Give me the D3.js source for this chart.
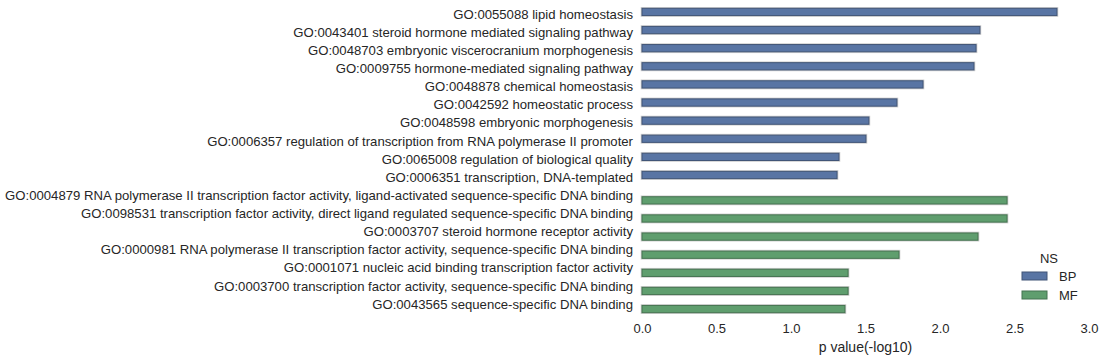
<html>
<head>
<script src="https://cdn.jsdelivr.net/npm/d3@7"></script>
<style>
  body { margin: 0; background: #fff; }
  text { font-family: "Liberation Sans", Arial, sans-serif; fill: #262626; }
</style>
</head>
<body>
<svg width="1104" height="362"></svg>
<script>

// GO terms, top to bottom
const terms = [
  "GO:0055088 lipid homeostasis",
  "GO:0043401 steroid hormone mediated signaling pathway",
  "GO:0048703 embryonic viscerocranium morphogenesis",
  "GO:0009755 hormone-mediated signaling pathway",
  "GO:0048878 chemical homeostasis",
  "GO:0042592 homeostatic process",
  "GO:0048598 embryonic morphogenesis",
  "GO:0006357 regulation of transcription from RNA polymerase II promoter",
  "GO:0065008 regulation of biological quality",
  "GO:0006351 transcription, DNA-templated",
  "GO:0004879 RNA polymerase II transcription factor activity, ligand-activated sequence-specific DNA binding",
  "GO:0098531 transcription factor activity, direct ligand regulated sequence-specific DNA binding",
  "GO:0003707 steroid hormone receptor activity",
  "GO:0000981 RNA polymerase II transcription factor activity, sequence-specific DNA binding",
  "GO:0001071 nucleic acid binding transcription factor activity",
  "GO:0003700 transcription factor activity, sequence-specific DNA binding",
  "GO:0043565 sequence-specific DNA binding"
];
const ns = ["BP","BP","BP","BP","BP","BP","BP","BP","BP","BP",
            "MF","MF","MF","MF","MF","MF","MF"];
const pvals = [2.785, 2.268, 2.242, 2.228, 1.886, 1.711, 1.523, 1.503, 1.322, 1.309,
               2.450, 2.450, 2.255, 1.725, 1.383, 1.383, 1.362];
const groups = ["BP", "MF"];
const colors = ["#5975a4", "#5f9e6e"];
const xTicks = [0, 0.5, 1, 1.5, 2, 2.5, 3];

const svg = d3.select("svg");

const x = d3.scaleLinear().domain([0, 3]).range([642, 1089]);
const y = d3.scaleBand().domain(terms).range([6.5, 314.5]).padding(0);
// hue dodge inside each category, like seaborn (0.8 of the band)
const yh = d3.scaleBand().domain(groups)
  .range([y.bandwidth() * 0.1, y.bandwidth() * 0.9]).padding(0);
const color = d3.scaleOrdinal().domain(groups).range(colors);

const data = terms.map((t, i) => ({term: t, ns: ns[i], v: pvals[i]}));

// bars
const bars = svg.append("g").selectAll("g")
  .data(data)
  .join("g");
bars.append("rect")
  .attr("x", x(0))
  .attr("y", d => y(d.term) + yh(d.ns))
  .attr("width", d => x(d.v) - x(0))
  .attr("height", yh.bandwidth())
  .attr("fill", "none")
  .attr("stroke", "#d0d0d0")
  .attr("stroke-width", 2.6);
bars.append("rect")
  .attr("x", x(0))
  .attr("y", d => y(d.term) + yh(d.ns))
  .attr("width", d => x(d.v) - x(0))
  .attr("height", yh.bandwidth())
  .attr("fill", d => color(d.ns))
  .attr("stroke", d => d3.color(color(d.ns)).darker(0.9))
  .attr("stroke-width", 1);

// y labels
const yAxis = svg.append("g")
  .attr("transform", `translate(${x(0)},-1)`)
  .call(d3.axisLeft(y).tickSize(0).tickPadding(9));
yAxis.select(".domain").remove();
yAxis.selectAll("text")
  .attr("font-size", 13.15)
  .attr("font-family", "Liberation Sans, Arial, sans-serif")
  .attr("fill", "#262626");

// x axis
const xAxis = svg.append("g")
  .attr("transform", "translate(0,314.5)")
  .call(d3.axisBottom(x).tickValues(xTicks).tickFormat(d3.format(".1f")).tickSize(0).tickPadding(9));
xAxis.select(".domain").remove();
xAxis.selectAll("text")
  .attr("font-size", 13)
  .attr("font-family", "Liberation Sans, Arial, sans-serif")
  .attr("fill", "#262626");

svg.append("text")
  .attr("x", (x(0) + x(3)) / 2)
  .attr("y", 352)
  .attr("text-anchor", "middle")
  .attr("font-size", 14)
  .text("p value(-log10)");

// legend
const lg = svg.append("g").attr("transform", "translate(1022,0)");
lg.append("text")
  .attr("x", 27).attr("y", 263)
  .attr("text-anchor", "middle")
  .attr("font-size", 13)
  .text("NS");
const items = lg.selectAll("g.item")
  .data(groups)
  .join("g")
  .attr("class", "item")
  .attr("transform", (d, i) => `translate(0,${272 + i * 19})`);
items.append("rect")
  .attr("width", 25).attr("height", 8)
  .attr("fill", d => color(d))
  .attr("stroke", d => d3.color(color(d)).darker(0.9))
  .attr("stroke-width", 1);
items.append("text")
  .attr("x", 37).attr("y", 9)
  .attr("font-size", 13)
  .text(d => d);

</script>
</body>
</html>
